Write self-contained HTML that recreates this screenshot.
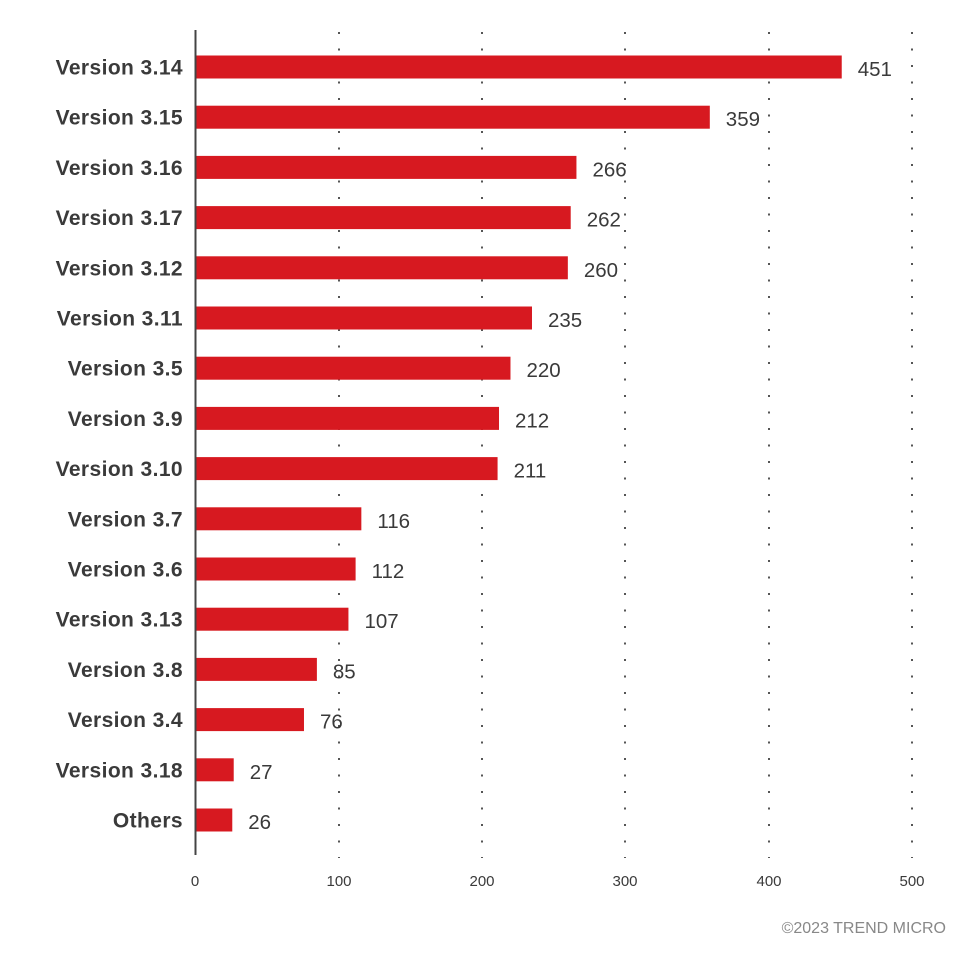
<!DOCTYPE html>
<html><head><meta charset="utf-8"><style>
html,body{margin:0;padding:0;background:#fff;}
svg{display:block;}
.l{font-family:"Liberation Sans",sans-serif;font-weight:bold;font-size:21px;fill:#3a3a3a;text-anchor:end;letter-spacing:0.4px}
.v{font-family:"Liberation Sans",sans-serif;font-size:20.5px;fill:#3a3a3a}
.t{font-family:"Liberation Sans",sans-serif;font-size:15px;fill:#3a3a3a;text-anchor:middle}
</style></head><body>
<svg width="977" height="963" xmlns="http://www.w3.org/2000/svg">
<g stroke="#555" stroke-width="2" stroke-dasharray="2 14.5">
<line x1="339" y1="32" x2="339" y2="858"/>
<line x1="482" y1="32" x2="482" y2="858"/>
<line x1="625" y1="32" x2="625" y2="858"/>
<line x1="769" y1="32" x2="769" y2="858"/>
<line x1="912" y1="32" x2="912" y2="858"/>
</g>
<g id="bars"></g>
<line x1="195.5" y1="30" x2="195.5" y2="855" stroke="#444" stroke-width="2"/>
<text class="t" x="195" y="886">0</text>
<text class="t" x="339" y="886">100</text>
<text class="t" x="482" y="886">200</text>
<text class="t" x="625" y="886">300</text>
<text class="t" x="769" y="886">400</text>
<text class="t" x="912" y="886">500</text>
<text x="946" y="933" style="font-family:'Liberation Sans',sans-serif;font-size:16px;fill:#888;text-anchor:end">©2023 TREND MICRO</text>
</svg>
<script>
var d=[["Version 3.14",451],["Version 3.15",359],["Version 3.16",266],["Version 3.17",262],["Version 3.12",260],["Version 3.11",235],["Version 3.5",220],["Version 3.9",212],["Version 3.10",211],["Version 3.7",116],["Version 3.6",112],["Version 3.13",107],["Version 3.8",85],["Version 3.4",76],["Version 3.18",27],["Others",26]];
var g=document.getElementById("bars"),h="";
d.forEach(function(r,i){var c=67+i*50.2,w=r[1]*1.434;
h+='<rect x="196" y="'+(c-11.5)+'" width="'+(w-1)+'" height="23" fill="#d71920"/>';
h+='<text class="l" x="183" y="'+(c+7.5)+'">'+r[0]+'</text>';
h+='<text class="v" x="'+(195+w+16)+'" y="'+(c+9)+'">'+r[1]+'</text>';});
g.innerHTML=h;
</script>
</body></html>
